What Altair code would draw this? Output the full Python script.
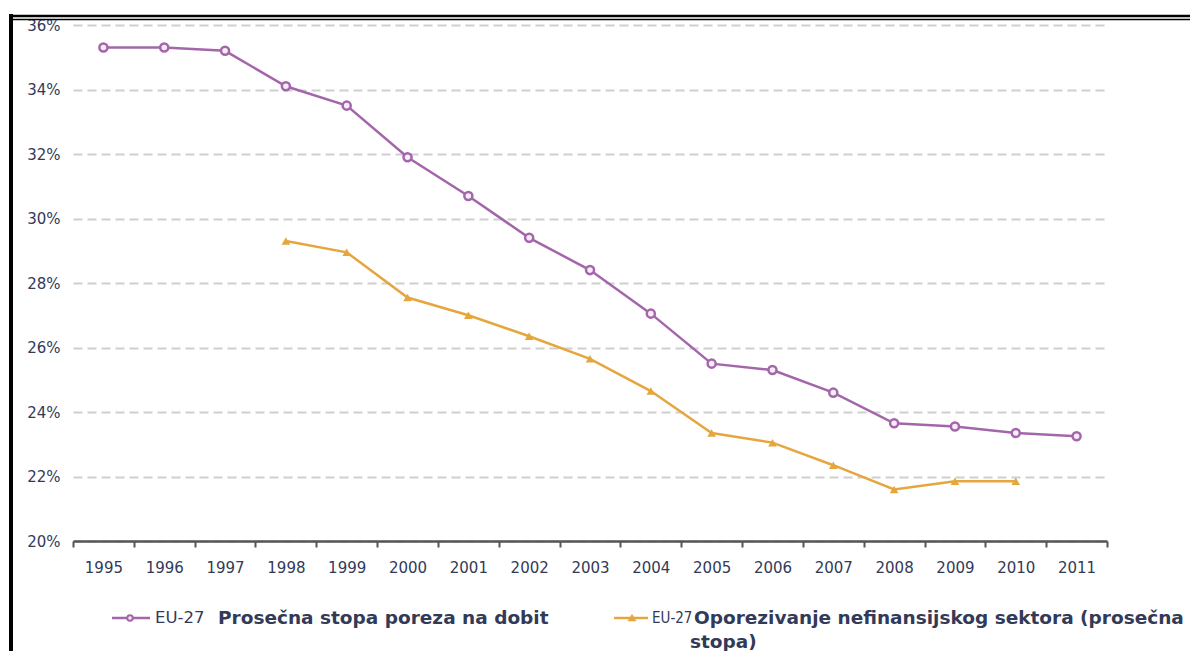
import altair as alt
import pandas as pd

# EU-27 average corporate income tax rate, 1995-2011
years = list(range(1995, 2012))
stopa_poreza = [35.3, 35.3, 35.2, 34.1, 33.5, 31.9, 30.7, 29.4, 28.4, 27.05,
                25.5, 25.3, 24.6, 23.65, 23.55, 23.35, 23.25]

# EU-27 taxation of the non-financial sector (average rate), 1998-2010
nefin_years = list(range(1998, 2011))
nefin_stopa = [29.3, 28.95, 27.55, 27.0, 26.35, 25.65, 24.65, 23.35, 23.05,
               22.35, 21.6, 21.85, 21.85]

y_ticks = list(range(20, 37, 2))

PURPLE = "#a466aa"
ORANGE = "#e6a63e"
TEXT = "#323a58"
FONT = "DejaVu Sans"

W, H = 1034, 516

df_a = pd.DataFrame({"godina": years, "stopa": stopa_poreza})
df_b = pd.DataFrame({"godina": nefin_years, "stopa": nefin_stopa})
one = pd.DataFrame({"k": [0]})

x_enc = alt.X(
    "godina:O",
    bandPosition=0.5,
    scale=alt.Scale(type="band", domain=years, paddingInner=0, paddingOuter=0),
    axis=alt.Axis(
        title=None, labelAngle=0, tickBand="extent", ticks=True, tickSize=6,
        tickWidth=2, tickColor="#555555", domainColor="#555555", domainWidth=2.5,
        labelPadding=13, labelFontSize=15, labelFont=FONT, labelColor=TEXT,
        grid=False,
    ),
)
y_enc = alt.Y(
    "stopa:Q",
    scale=alt.Scale(domain=[20, 36], nice=False, zero=False),
    axis=alt.Axis(
        title=None, values=y_ticks, labelExpr="datum.value + '%'",
        grid=True, gridDash=[9, 5], gridColor="#cfcfcf", gridWidth=2,
        ticks=False, domain=False, labelPadding=13, labelFontSize=15,
        labelFont=FONT, labelColor=TEXT,
    ),
)

line_a = alt.Chart(df_a).mark_line(color=PURPLE, strokeWidth=2.5).encode(x=x_enc, y=y_enc)
pts_a = alt.Chart(df_a).mark_point(
    shape="circle", filled=True, fill="#f6eef7", stroke=PURPLE, strokeWidth=2.5,
    size=65, opacity=1,
).encode(x=x_enc, y=y_enc)

line_b = alt.Chart(df_b).mark_line(color=ORANGE, strokeWidth=2.5).encode(x=x_enc, y=y_enc)
pts_b = alt.Chart(df_b).mark_point(
    shape="triangle-up", filled=True, color=ORANGE, size=75, opacity=1,
).encode(x=x_enc, y=y_enc)


def rule(x, x2, y, y2, color, width):
    return alt.Chart(one).mark_rule(color=color, strokeWidth=width).encode(
        x=alt.value(x), x2=alt.value(x2), y=alt.value(y), y2=alt.value(y2)
    )


def label(txt, x, y, bold=False, size=17, font=FONT):
    return alt.Chart(one).mark_text(
        text=txt, align="left", baseline="middle", font=font, fontSize=size,
        fontWeight="bold" if bold else "normal", color=TEXT,
    ).encode(x=alt.value(x), y=alt.value(y))


def marker(shape, color, x, y, fill):
    return alt.Chart(one).mark_point(
        shape=shape, filled=True, fill=fill, stroke=color, strokeWidth=2,
        size=30, opacity=1,
    ).encode(x=alt.value(x), y=alt.value(y))


# legend below the axis
LY = 593
legend = [
    rule(39, 77, LY, LY, PURPLE, 2.5),
    marker("circle", PURPLE, 57, LY, "#f6eef7"),
    label("EU-27", 82, LY, size=16.5),
    label("Prosečna stopa poreza na dobit", 145, LY, bold=True, size=18.5),
    rule(541, 575, LY, LY, ORANGE, 2.5),
    marker("triangle-up", ORANGE, 559, LY, ORANGE),
    label("EU-27", 579, LY, size=15, font="DejaVu Sans Condensed"),
    label("Oporezivanje nefinansijskog sektora (prosečna", 621, LY, bold=True, size=18.5),
    label("stopa)", 617, LY + 24, bold=True, size=18.5),
]

# black frame around the figure
frame = [
    rule(-62, -62, -11, 640, "#000000", 4),
    rule(-64, 1120, -9, -9, "#000000", 2.5),
    rule(-60, 1120, -5.5, -5.5, "#000000", 1.5),
]

chart = alt.layer(
    line_a, pts_a, line_b, pts_b, *legend, *frame
).properties(
    width=W, height=H,
    autosize=alt.AutoSizeParams(type="none"),
    padding={"left": 73, "top": 25, "right": 83, "bottom": 110},
    background="white",
).configure_view(stroke=None)

chart.save("out.html", embed_options={"renderer": "svg", "actions": False})
